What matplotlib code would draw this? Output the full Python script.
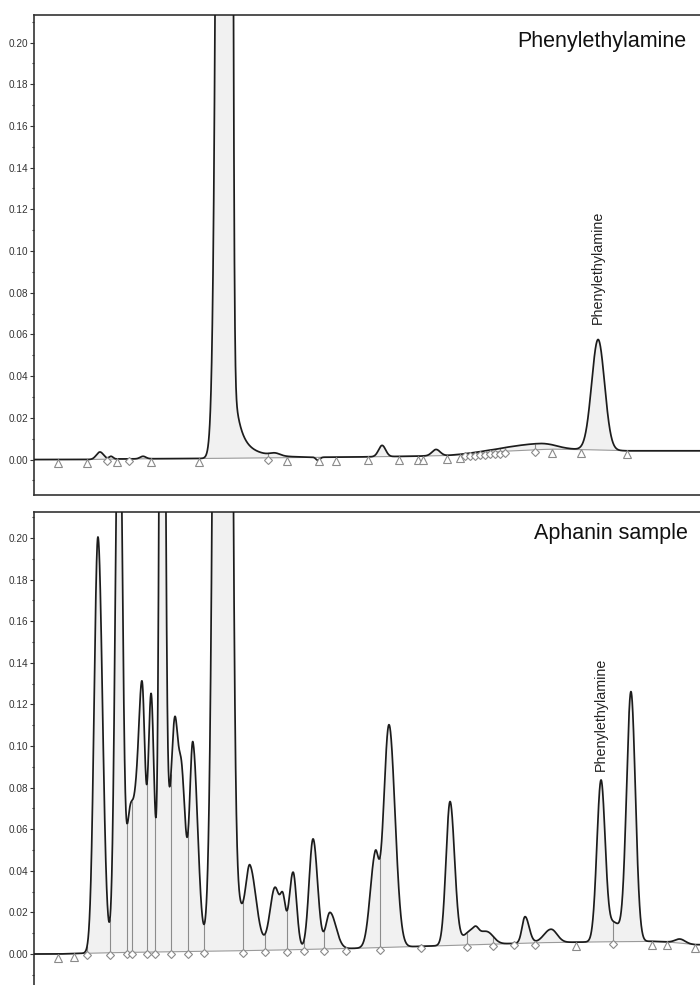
import numpy as np
import matplotlib
matplotlib.use("Agg")
import matplotlib.pyplot as plt
from matplotlib import transforms
from matplotlib.ticker import MultipleLocator, FormatStrFormatter, NullLocator

plt.rcParams['font.family'] = ['Liberation Sans', 'DejaVu Sans']

# ---------------- data (retention time in min, absorbance in AU) ----------------
titles = ["Phenylethylamine", "Aphanin sample"]
peak_label = "Phenylethylamine"

# --- top panel: phenylethylamine standard ---
top_rt     = [2.97, 3.47, 4.91, 8.74, 10.86, 12.79, 15.68, 18.11, 22.79, 25.41]
top_height = [0.0035, 0.0013, 0.0012, 3.0, 0.0012, -0.0015, 0.0054, 0.0030, 0.0029, 0.0530]
top_wl     = [0.16, 0.09, 0.13, 0.255, 0.225, 0.09, 0.158, 0.18, 1.58, 0.29]
top_wr     = [0.16, 0.09, 0.13, 0.104, 0.225, 0.09, 0.158, 0.18, 0.68, 0.29]
top_tail_rt  = [8.74, 8.74]
top_tail_h   = [0.07, 0.012]
top_tail_tau = [0.27, 0.90]
top_pea_rt = 25.41

top_mark_t = [1.08, 2.39, 3.29, 3.74, 4.28, 5.27, 7.43, 10.54, 11.40, 12.84, 13.60,
              15.05, 16.44, 17.30, 17.52, 18.61, 19.19, 19.42, 19.64, 19.87, 20.09,
              20.32, 20.54, 20.77, 20.99, 21.22, 22.57, 23.34, 24.64, 26.71]
top_mark_y = [0.0000, 0.0000, 0.0002, 0.0003, 0.0003, 0.0004, 0.0005, 0.0008, 0.0009, 0.0010, 0.0011,
              0.0013, 0.0015, 0.0016, 0.0017, 0.0019, 0.0023, 0.0025, 0.0027, 0.0029, 0.0031,
              0.0033, 0.0035, 0.0036, 0.0038, 0.0040, 0.0047, 0.0050, 0.0048, 0.0042]
top_mark_kind = ["t", "t", "d", "t", "d", "t", "t", "d", "t", "t", "t",
                 "t", "t", "t", "t", "t", "t", "d", "d", "d", "d",
                 "d", "d", "d", "d", "d", "d", "t", "t", "t"]

# --- bottom panel: Aphanin sample ---
bot_rt     = [2.88, 3.83, 4.32, 4.59, 4.87, 5.27, 5.77, 6.22, 6.35, 6.67, 7.16, 8.56,
              9.73, 10.86, 11.22, 11.67, 12.57, 13.33, 15.36, 15.99, 18.74, 19.73,
              19.91, 20.45, 22.12, 23.29, 25.54, 26.13, 26.89, 29.10]
bot_height = [0.200, 0.30, 0.062, 0.042, 0.118, 0.102, 0.50, 0.065, 0.048, 0.046, 0.093, 1.6,
              0.032, 0.029, 0.017, 0.037, 0.053, 0.0175, 0.042, 0.107, 0.069, 0.007,
              0.002, 0.005, 0.0127, 0.0064, 0.077, 0.009, 0.120, 0.002]
bot_wl     = [0.171, 0.158, 0.158, 0.135, 0.158, 0.126, 0.099, 0.63, 0.135, 0.135, 0.144, 0.27,
              0.18, 0.225, 0.113, 0.18, 0.18, 0.18, 0.225, 0.248, 0.18, 0.36,
              0.113, 0.27, 0.135, 0.315, 0.185, 0.27, 0.198, 0.225]
bot_wr     = [0.203, 0.150, 0.158, 0.135, 0.135, 0.126, 0.113, 0.45, 0.135, 0.158, 0.216, 0.203,
              0.27, 0.225, 0.113, 0.158, 0.203, 0.27, 0.158, 0.27, 0.203, 0.36,
              0.113, 0.27, 0.18, 0.27, 0.185, 0.27, 0.198, 0.225]
bot_tail_rt  = [8.56]
bot_tail_h   = [0.08]
bot_tail_tau = [0.54]
bot_pea_rt = 25.54

bot_mark_t = [1.08, 1.80, 2.39, 3.42, 4.19, 4.41, 5.09, 5.45, 6.17, 6.94, 7.66, 9.42,
              10.41, 11.40, 12.16, 13.06, 14.06, 15.59, 17.43, 19.51, 20.68, 21.62,
              22.57, 24.42, 26.08, 27.84, 28.52, 29.78]
bot_mark_y = [0.0000, 0.0002, 0.0004, 0.0006, 0.0008, 0.0008, 0.0009, 0.0010, 0.0011, 0.0012, 0.0013, 0.0016,
              0.0018, 0.0020, 0.0022, 0.0024, 0.0026, 0.0031, 0.0037, 0.0044, 0.0048, 0.0051,
              0.0054, 0.0057, 0.0059, 0.0061, 0.0058, 0.0045]
bot_mark_kind = ["t", "t", "d", "d", "d", "d", "d", "d", "d", "d", "d", "d",
                 "d", "d", "d", "d", "d", "d", "d", "d", "d", "d",
                 "d", "t", "d", "t", "t", "t"]

ytick_values = [0.00, 0.02, 0.04, 0.06, 0.08, 0.10, 0.12, 0.14, 0.16, 0.18, 0.20]

# ---------------- helpers ----------------
t = np.linspace(0, 30, 9001)


def trace(rt, h, wl, wr, tail_rt, tail_h, tail_tau, mk_t, mk_y):
    base = np.interp(t, mk_t, mk_y)
    y = base.copy()
    for c, hh, sl, sr in zip(rt, h, wl, wr):
        s = np.where(t < c, sl, sr)
        y += hh * np.exp(-0.5 * ((t - c) / s) ** 2)
    for c, hh, tau in zip(tail_rt, tail_h, tail_tau):
        dt = np.clip(t - c, 0, None)
        y += hh * np.exp(-dt / tau) * (1 - np.exp(-(dt / 0.08) ** 2))
    return base, y


fig = plt.figure(figsize=(7.0, 9.85), dpi=100)
W, H = 700.0, 985.0
ax_top = fig.add_axes([34 / W, 1 - 495 / H, 1 - 34 / W, 480 / H])
ax_bot = fig.add_axes([34 / W, 0.0, 1 - 34 / W, 1 - 512 / H])

panels = [
    (ax_top, top_rt, top_height, top_wl, top_wr, top_tail_rt, top_tail_h, top_tail_tau,
     top_mark_t, top_mark_y, top_mark_kind, top_pea_rt, (-0.0170, 0.2132), titles[0],
     (0.979, 0.944), 11.0),
    (ax_bot, bot_rt, bot_height, bot_wl, bot_wr, bot_tail_rt, bot_tail_h, bot_tail_tau,
     bot_mark_t, bot_mark_y, bot_mark_kind, bot_pea_rt, (-0.0149, 0.2125), titles[1],
     (0.982, 0.9556), 6.5),
]

line_col = "#1c1c1c"
base_col = "#9a9a9a"
mark_col = "#8a8a8a"
spine_col = "#333333"

for (ax, rt, h, wl, wr, trt, th, ttau, mk_t, mk_y, mk_kind, pea_rt, ylim, title,
     title_pos, lab_off) in panels:
    base, y = trace(rt, h, wl, wr, trt, th, ttau, mk_t, mk_y)
    ax.fill_between(t, base, y, where=y > base, color="#f1f1f1", lw=0, zorder=1)
    ax.plot(t, base, color=base_col, lw=0.8, zorder=2)

    # drop lines at valley markers
    mk_t_arr = np.array(mk_t)
    mk_y_arr = np.array(mk_y)
    kinds = np.array(mk_kind)
    yd = np.interp(mk_t_arr, t, y)
    dsel = kinds == "d"
    ax.vlines(mk_t_arr[dsel], mk_y_arr[dsel], yd[dsel], color="#8c8c8c", lw=0.8, zorder=2)

    ax.plot(t, y, color=line_col, lw=1.25, zorder=4)

    tr_tri = transforms.offset_copy(ax.transData, fig=fig, x=0, y=-3.5, units="dots")
    tr_dia = transforms.offset_copy(ax.transData, fig=fig, x=0, y=-2.0, units="dots")
    tsel = kinds == "t"
    ax.plot(mk_t_arr[tsel], mk_y_arr[tsel], linestyle="none", marker="^", ms=5.6,
            mfc="white", mec=mark_col, mew=0.8, transform=tr_tri, zorder=5, clip_on=False)
    ax.plot(mk_t_arr[dsel], mk_y_arr[dsel], linestyle="none", marker="D", ms=4.4,
            mfc="white", mec=mark_col, mew=0.8, transform=tr_dia, zorder=5, clip_on=False)

    # peak label
    win = np.abs(t - pea_rt) < 0.4
    i_apex = np.argmax(np.where(win, y, -1))
    ax.annotate(peak_label, xy=(t[i_apex], y[i_apex]), xytext=(0, lab_off),
                textcoords="offset points", rotation=90, ha="center", va="bottom",
                fontsize=10.3, color="#222222")

    ax.text(title_pos[0], title_pos[1], title, transform=ax.transAxes, ha="right",
            va="center", fontsize=15.5, color="#111111")

    ax.set_xlim(0, 30)
    ax.set_ylim(*ylim)
    ax.set_yticks(ytick_values)
    ax.yaxis.set_major_formatter(FormatStrFormatter("%.2f"))
    ax.yaxis.set_minor_locator(MultipleLocator(0.01))
    ax.xaxis.set_major_locator(NullLocator())
    ax.xaxis.set_minor_locator(NullLocator())
    ax.tick_params(axis="y", which="major", length=3.0, width=0.8, pad=1.2,
                   labelsize=7.2, colors=spine_col, labelcolor="#333333")
    ax.tick_params(axis="y", which="minor", length=1.6, width=0.8, colors=spine_col)
    ax.spines["right"].set_visible(False)
    for s in ["left", "top", "bottom"]:
        ax.spines[s].set_linewidth(1.2)
        ax.spines[s].set_color(spine_col)

ax_bot.spines["bottom"].set_visible(False)

fig.savefig("out.png", dpi=100)
